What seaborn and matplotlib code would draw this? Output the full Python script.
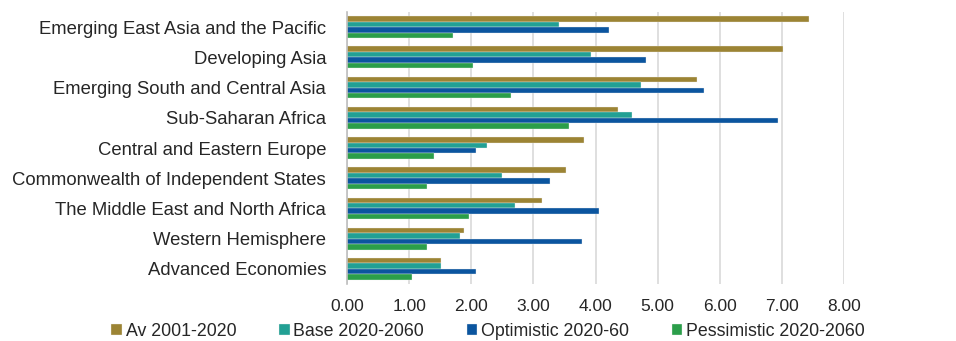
import matplotlib
matplotlib.use("Agg")
import matplotlib.pyplot as plt
import seaborn as sns
import pandas as pd

regions = [
    "Emerging East Asia and the Pacific",
    "Developing Asia",
    "Emerging South and Central Asia",
    "Sub-Saharan Africa",
    "Central and Eastern Europe",
    "Commonwealth of Independent States",
    "The Middle East and North Africa",
    "Western Hemisphere",
    "Advanced Economies",
]
series = ["Av 2001-2020", "Base 2020-2060", "Optimistic 2020-60", "Pessimistic 2020-2060"]

av_2001_2020 = [7.44, 7.02, 5.64, 4.36, 3.81, 3.52, 3.14, 1.88, 1.51]
base_2020_2060 = [3.41, 3.92, 4.74, 4.58, 2.25, 2.50, 2.70, 1.82, 1.51]
optimistic_2020_60 = [4.21, 4.81, 5.75, 6.94, 2.08, 3.26, 4.05, 3.79, 2.08]
pessimistic_2020_2060 = [1.71, 2.03, 2.64, 3.57, 1.40, 1.29, 1.97, 1.29, 1.05]

x_ticks = [0, 1, 2, 3, 4, 5, 6, 7, 8]
colors = ["#9c8434", "#22a094", "#0b559f", "#2b9e4a"]

rows = []
for name, vals in zip(series, [av_2001_2020, base_2020_2060, optimistic_2020_60, pessimistic_2020_2060]):
    for reg, v in zip(regions, vals):
        rows.append({"region": reg, "series": name, "value": v})
df = pd.DataFrame(rows)

sns.set_style("white")
plt.rcParams["font.family"] = ["Liberation Sans", "DejaVu Sans"]

fig = plt.figure(figsize=(9.56, 3.41), dpi=100)
ax = fig.add_axes([347 / 956, 1 - 284 / 341, (844 - 347) / 956, (284 - 12) / 341])

sns.barplot(data=df, y="region", x="value", hue="series", order=regions,
            hue_order=series, palette=colors, saturation=1, orient="h", width=0.72,
            edgecolor="#f0f0f0", linewidth=0.25, ax=ax, legend=True)

ax.set_xlim(0, 8)
ax.set_xticks(x_ticks)
ax.set_xticklabels([f"{t:.2f}" for t in x_ticks], fontsize=12.5)
ax.tick_params(axis="y", labelsize=13.3, length=0, pad=15)
ax.tick_params(axis="x", length=0, pad=11)
ax.set_xlabel("")
ax.set_ylabel("")
ax.xaxis.grid(True, color="#d9d9d9", linewidth=1.2)
ax.set_axisbelow(True)
for s in ["top", "right", "bottom"]:
    ax.spines[s].set_visible(False)
ax.spines["left"].set_color("#bfbfbf")
ax.spines["left"].set_linewidth(1.2)

handles, labels = ax.get_legend_handles_labels()
ax.legend(handles, labels, loc="center", bbox_to_anchor=(488 / 956, 10 / 341),
          bbox_transform=fig.transFigure, ncol=4,
          frameon=False, fontsize=12.8, handlelength=0.6, handleheight=0.6,
          handletextpad=0.2, columnspacing=2.4, borderpad=0)

fig.savefig("out.png", dpi=100)
